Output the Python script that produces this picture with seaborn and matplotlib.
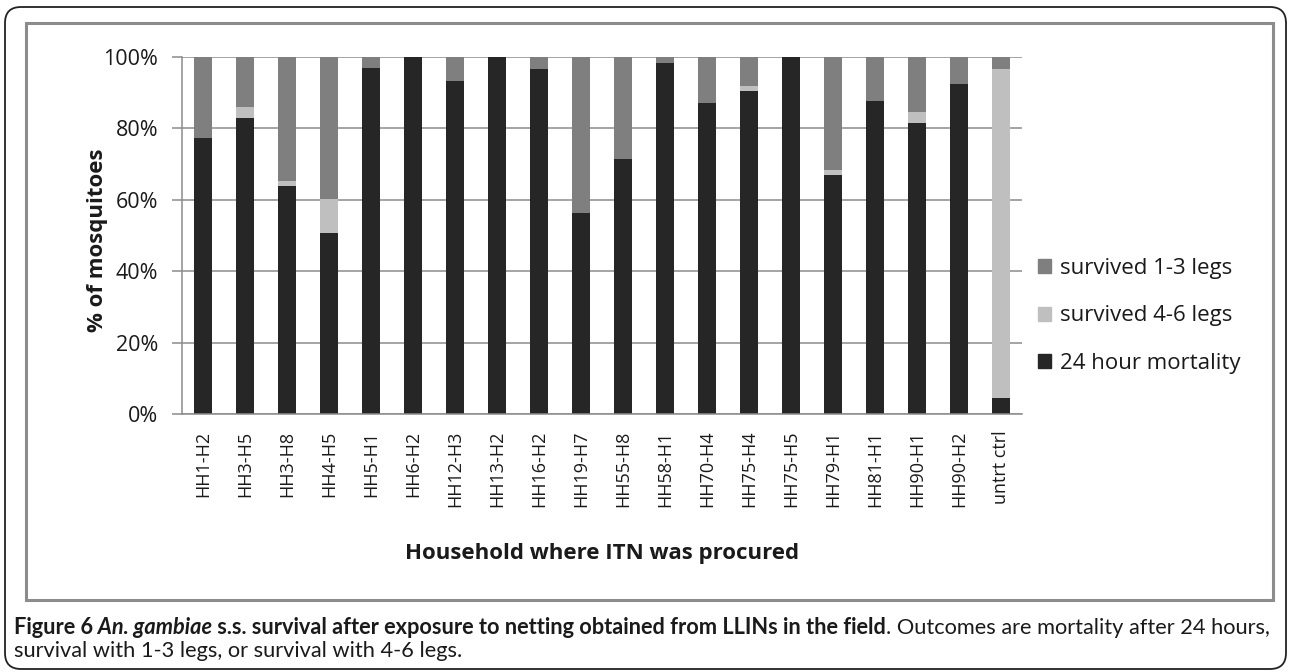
import numpy as np
import matplotlib

matplotlib.use("Agg")
import matplotlib.pyplot as plt
import seaborn as sns
from matplotlib.patches import Patch, Rectangle, FancyBboxPatch

# datos (% de mosquitos por hogar)
households = ["HH1-H2", "HH3-H5", "HH3-H8", "HH4-H5", "HH5-H1", "HH6-H2", "HH12-H3",
              "HH13-H2", "HH16-H2", "HH19-H7", "HH55-H8", "HH58-H1", "HH70-H4",
              "HH75-H4", "HH75-H5", "HH79-H1", "HH81-H1", "HH90-H1", "HH90-H2", "untrt ctrl"]
mortality_24h = [77.3, 82.9, 63.8, 50.6, 96.8, 100, 93.4, 100, 96.5, 56.3,
                 71.5, 98.2, 87.1, 90.6, 100, 67.0, 87.7, 81.5, 92.4, 4.5]
survived_4_6 = [0, 3.0, 1.6, 9.5, 0, 0, 0, 0, 0, 0,
                0, 0, 0, 1.4, 0, 1.4, 0, 3.0, 0, 92.0]
survived_1_3 = [22.7, 14.1, 34.6, 39.9, 3.2, 0, 6.6, 0, 3.5, 43.7,
                28.5, 1.8, 12.9, 8.0, 0, 31.6, 12.3, 15.5, 7.6, 3.5]
yticks = [0, 20, 40, 60, 80, 100]

c_dark, c_light, c_mid = "#262626", "#bfbfbf", "#7f7f7f"
grid_gray = "#8c8c8c"
txt_col = "#1a1a1a"

sns.set_style("white")
plt.rcParams["font.family"] = ["Open Sans", "DejaVu Sans"]

fig = plt.figure(figsize=(12.89, 6.72), dpi=100)
ax = fig.add_axes([182 / 1289, (672 - 414) / 672, 840 / 1289, (414 - 57) / 672])

mort = np.array(mortality_24h)
low = mort + np.array(survived_4_6)
total = low + np.array(survived_1_3)

# barras apiladas dibujadas por capas, de la mas alta a la mas baja
for vals, col in [(total, c_mid), (low, c_light), (mort, c_dark)]:
    sns.barplot(x=households, y=vals, order=households, color=col, width=0.43,
                saturation=1, linewidth=0, ax=ax)

ax.set_xlim(-0.5, len(households) - 0.5)
ax.set_ylim(0, 100)
ax.set_yticks(yticks)
ax.set_yticklabels([f"{v}%" for v in yticks], fontsize=15.5, color=txt_col)
ax.yaxis.grid(True, color=grid_gray, linewidth=1.1)
ax.set_axisbelow(True)

ax.set_xticks(range(len(households)))
ax.set_xticklabels(households, rotation=90, fontsize=13, color=txt_col)
ax.set_xticks(np.arange(-0.5, len(households), 1), minor=True)
ax.tick_params(axis="x", which="major", length=0, pad=12)
ax.tick_params(axis="x", which="minor", length=6, color=grid_gray, width=1.1)
ax.tick_params(axis="y", length=7, color=grid_gray, width=1.1, pad=10, left=True)

for s in ["top", "right"]:
    ax.spines[s].set_visible(False)
for s in ["left", "bottom"]:
    ax.spines[s].set_color(grid_gray)
    ax.spines[s].set_linewidth(1.1)

ax.set_xlabel("Household where ITN was procured", fontsize=16, fontweight="bold", color=txt_col)
ax.xaxis.set_label_coords(0.5, (414 - 553) / 357)
ax.xaxis.label.set_va("center")
ax.set_ylabel("% of mosquitoes", fontsize=16, fontweight="bold", color=txt_col)
ax.yaxis.set_label_coords((97 - 182) / 840, (414 - 240) / 357)
ax.yaxis.label.set_va("center")

handles = [Patch(color=c_mid, label="survived 1-3 legs"),
           Patch(color=c_light, label="survived 4-6 legs"),
           Patch(color=c_dark, label="24 hour mortality")]
fig.legend(handles=handles, loc="center left", bbox_to_anchor=(1018 / 1289, 1 - 316 / 672),
           frameon=False, fontsize=16, handlelength=0.6, handleheight=0.6,
           handletextpad=0.4, labelspacing=1.2, labelcolor=txt_col)

# marco del grafico y recuadro exterior redondeado
fig.patches.append(Rectangle((0.26, 0.72), 12.47, 5.77, transform=fig.dpi_scale_trans,
                             fill=False, edgecolor="#8c8c8c", linewidth=2.2))
fig.patches.append(FancyBboxPatch((0.05, 0.03), 12.81, 6.62, transform=fig.dpi_scale_trans,
                                  boxstyle="round,pad=0,rounding_size=0.16",
                                  fill=False, edgecolor="#222222", linewidth=1.3))

# pie de figura con estilos mezclados
cap_font = ["Lato", "DejaVu Sans"]
cap_size = 15.7
pieces = [("Figure 6", "bold", "normal"), (" An. gambiae", "bold", "italic"),
          (" s.s. survival after exposure to netting obtained from LLINs in the field", "bold", "normal"),
          (". Outcomes are mortality after 24 hours,", "normal", "normal")]
prev = None
for txt, w, st in pieces:
    if prev is None:
        prev = fig.text(14 / 1289, 1 - 627 / 672, txt, fontsize=cap_size, fontweight=w,
                        fontstyle=st, va="center", ha="left", color=txt_col, family=cap_font)
    else:
        prev = ax.annotate(txt, xy=(1, 0), xycoords=prev, va="bottom", ha="left",
                           fontsize=cap_size, fontweight=w, fontstyle=st, color=txt_col,
                           family=cap_font, annotation_clip=False)
fig.text(14 / 1289, 1 - 651 / 672, "survival with 1-3 legs, or survival with 4-6 legs.",
         fontsize=cap_size, va="center", ha="left", color=txt_col, family=cap_font)

fig.savefig("out.png", dpi=100)
